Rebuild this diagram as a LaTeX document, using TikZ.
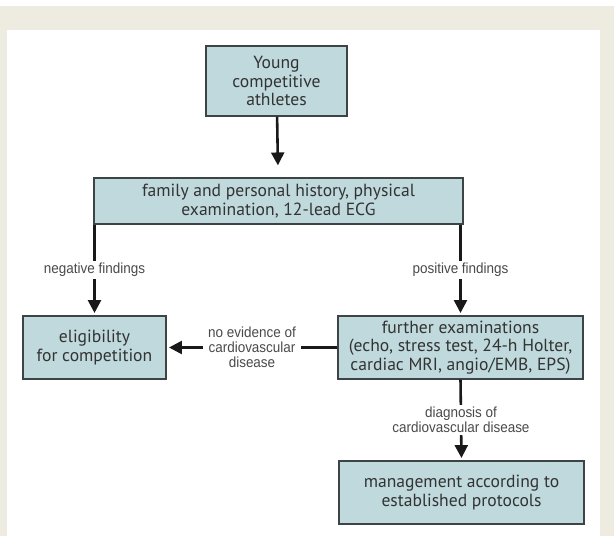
\documentclass[tikz,border=0pt]{standalone}
\usepackage{fontspec}
\setmainfont{PT Sans}
\newfontfamily\narrowfont[FakeStretch=0.92]{Liberation Sans}
\usepackage{tikz}
\usetikzlibrary{positioning}
\usetikzlibrary{arrows.meta}

\definecolor{pagebeige}{HTML}{EEEBE0}
\definecolor{boxfill}{HTML}{BFD9DC}
\definecolor{framegray}{HTML}{3C4445}
\definecolor{textgray}{HTML}{333333}
\definecolor{lblgray}{HTML}{4A4A4A}

\begin{document}
\begin{tikzpicture}
    [ inner sep=0pt,
    every node/.style={align=center, text=textgray},
    box/.style={draw=framegray, line width=1.1pt, fill=boxfill,
      font=\fontsize{15}{16}\selectfont},
    lbl/.style={fill=white, inner sep=2pt, text=lblgray,
      font=\narrowfont\fontsize{12.5}{12.8}\selectfont},
    arr/.style={draw=black!90, line width=2.2pt,
      -{Triangle[width=11pt,length=11pt]}, shorten >=2pt}
    ]

    \useasboundingbox (0,0) rectangle (18.42,16.08);
    \fill[pagebeige] (0,0) rectangle (18.42,15.9);
    \fill[white] (0.21,0) rectangle (18.0,15.18);

    \node[box, minimum width=4.23cm, minimum height=2.1cm] (athletes) at (8.295,13.65)
      {Young\\competitive\\athletes};
    \node[box, minimum width=11.07cm, minimum height=1.38cm] (history) at (8.355,10.05)
      {family and personal history, physical\\examination, 12-lead ECG};

    \node[box, minimum width=4.29cm, minimum height=1.89cm] (eligible) at (2.835,5.655)
      {eligibility\\for competition};
    \node[box, minimum width=7.35cm, minimum height=1.89cm] (further) at (13.815,5.655)
      {further examinations\\(echo, stress test, 24-h Holter,\\cardiac MRI, angio/EMB, EPS)};

    \node[box, minimum width=7.35cm, minimum height=1.89cm] (manage) at (13.845,1.305)
      {management according to\\established protocols};

    \draw [arr, shorten >=0.36cm] (athletes) -- (history);
    \draw [arr] (eligible.north |- history.south) -- node [lbl]{negative findings} (eligible.north);
    \draw [arr] (further.north |- history.south) -- node [lbl]{positive findings} (further.north);
    \draw [arr] (further.west) -- node [lbl, inner xsep=4pt]{no evidence of\\cardiovascular\\disease} (eligible.east);
    \draw [arr] (further.south) -- node [lbl]{diagnosis of\\cardiovascular disease} (manage.north);
  \end{tikzpicture}
\end{document}
